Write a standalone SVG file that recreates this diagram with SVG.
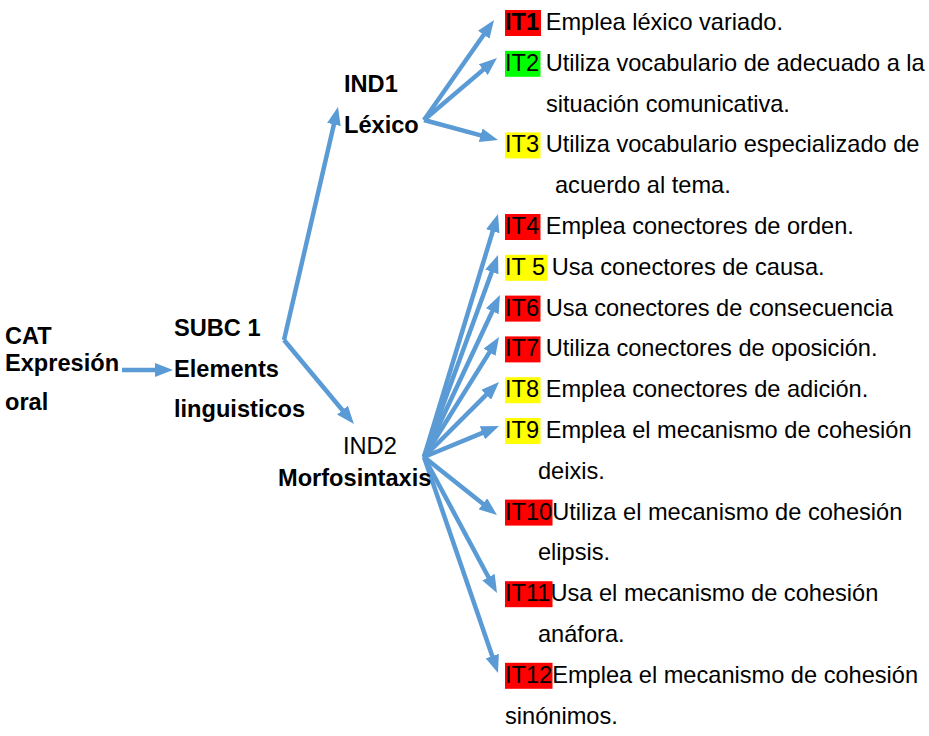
<svg xmlns="http://www.w3.org/2000/svg" width="929" height="736" viewBox="0 0 929 736">
<style>
text{font-family:"Liberation Sans",Arial,sans-serif;font-size:23.6px;fill:#000}
.b{font-weight:bold}
.c line,.c path{stroke:#5B9BD5;stroke-width:4.5;fill:none;marker-end:url(#ah)}
.r{fill:#FF0000}.g{fill:#00FF00}.y{fill:#FFFF00}
</style>
<defs>
<marker id="ah" markerUnits="userSpaceOnUse" viewBox="0 0 18 14" markerWidth="18" markerHeight="14" refX="4" refY="7" orient="auto">
<path d="M0,0 L18,7 L0,14 z" fill="#5B9BD5"/>
</marker>
</defs>
<rect width="929" height="736" fill="#fff"/>
<g class="c" id="connectors">
<line x1="122" y1="370" x2="159" y2="370"/>
<line x1="284" y1="340" x2="334.8" y2="120.6"/>
<line x1="284" y1="340" x2="345" y2="413.2"/>
<line x1="424" y1="120" x2="486" y2="31.5"/>
<line x1="424" y1="120" x2="486.3" y2="67.1"/>
<line x1="424" y1="120" x2="484.5" y2="136.3"/>
<line x1="424" y1="457" x2="493.9" y2="227.4"/>
<line x1="424" y1="457" x2="493.2" y2="268.1"/>
<line x1="424" y1="457" x2="494" y2="307.7"/>
<line x1="424" y1="457" x2="491.6" y2="348.9"/>
<line x1="424" y1="457" x2="489.1" y2="391.9"/>
<line x1="424" y1="457" x2="486.1" y2="431.3"/>
<line x1="424" y1="457" x2="486" y2="506.3"/>
<line x1="424" y1="457" x2="490.4" y2="580.7"/>
<line x1="424" y1="457" x2="493.5" y2="659.8"/>
</g>
<g id="cat">
<text class="b" x="5" y="344">CAT</text>
<text class="b" x="5" y="371">Expresión</text>
<text class="b" x="5" y="410">oral</text>
</g>
<g id="subc1">
<text class="b" x="174" y="336">SUBC 1</text>
<text class="b" x="174" y="377">Elements</text>
<text class="b" x="174" y="417">linguisticos</text>
</g>
<g id="ind1">
<text class="b" x="344" y="92">IND1</text>
<text class="b" x="344" y="133">Léxico</text>
</g>
<g id="ind2">
<text x="343" y="454">IND2</text>
<text class="b" x="278" y="486">Morfosintaxis</text>
</g>
<g id="it1"><rect class="r" x="505" y="10" width="36" height="26"/><text x="505" y="30"><tspan class="b">IT1</tspan> Emplea léxico variado.</text></g>
<g id="it2"><rect class="g" x="505" y="50.8" width="35.5" height="26"/><text x="505" y="70.8">IT2 Utiliza vocabulario de adecuado a la</text><text x="546" y="111.6">situación comunicativa.</text></g>
<g id="it3"><rect class="y" x="505" y="132.4" width="35.5" height="26"/><text x="505" y="152.4">IT3 Utiliza vocabulario especializado de</text><text x="555" y="193.2">acuerdo al tema.</text></g>
<g id="it4"><rect class="r" x="505" y="214" width="35.5" height="26"/><text x="505" y="234">IT4 Emplea conectores de orden.</text></g>
<g id="it5"><rect class="y" x="505" y="254.8" width="42.5" height="26"/><text x="505" y="274.8">IT 5 Usa conectores de causa.</text></g>
<g id="it6"><rect class="r" x="505" y="295.6" width="35.5" height="26"/><text x="505" y="315.6">IT6 Usa conectores de consecuencia</text></g>
<g id="it7"><rect class="r" x="505" y="336.4" width="35.5" height="26"/><text x="505" y="356.4">IT7 Utiliza conectores de oposición.</text></g>
<g id="it8"><rect class="y" x="505" y="377.2" width="35.5" height="26"/><text x="505" y="397.2">IT8 Emplea conectores de adición.</text></g>
<g id="it9"><rect class="y" x="505" y="418" width="35.5" height="26"/><text x="505" y="438">IT9 Emplea el mecanismo de cohesión</text><text x="538" y="478.8">deixis.</text></g>
<g id="it10"><rect class="r" x="505" y="499.6" width="47.5" height="26"/><text x="505" y="519.6">IT10Utiliza el mecanismo de cohesión</text><text x="538" y="560.4">elipsis.</text></g>
<g id="it11"><rect class="r" x="505" y="581.2" width="47.5" height="26"/><text x="505" y="601.2">IT11Usa el mecanismo de cohesión</text><text x="538" y="642">anáfora.</text></g>
<g id="it12"><rect class="r" x="505" y="662.8" width="47.5" height="26"/><text x="505" y="682.8">IT12Emplea el mecanismo de cohesión</text><text x="505" y="723.6">sinónimos.</text></g>
</svg>
